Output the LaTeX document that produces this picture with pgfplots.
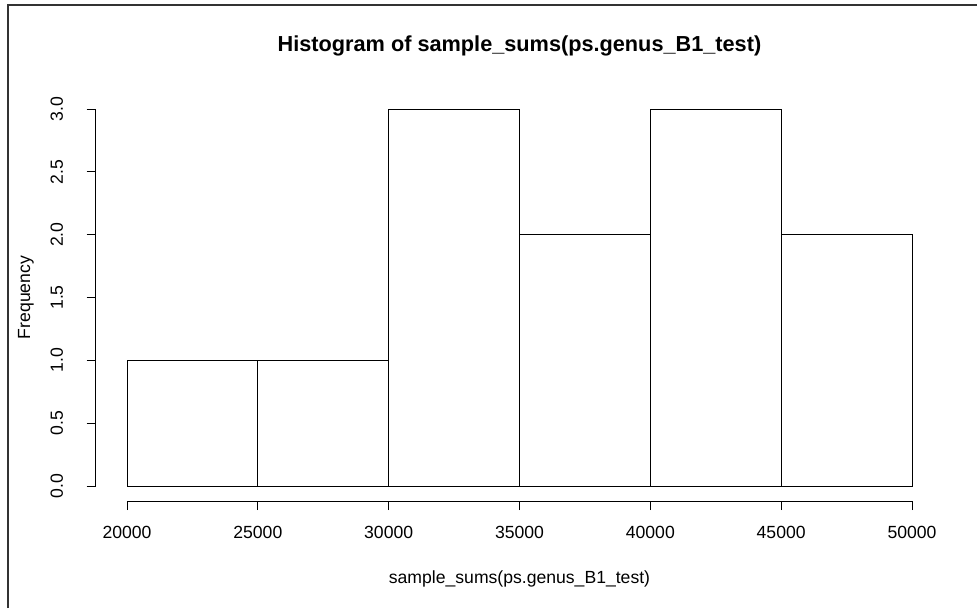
\documentclass[border=0pt]{standalone}
\usepackage{fontspec}
\setmainfont{Liberation Sans}
\usepackage{pgfplots}
\pgfplotsset{compat=1.18}
\begin{document}
\begin{tikzpicture}[x=1pt,y=1pt]
\path[use as bounding box] (0,0) rectangle (977,608);
% outer frame (left and top edges)
\draw[line width=2pt, black!80] (8,0) -- (8,603) -- (977,603);
\begin{axis}[
  at={(95.6pt,106.9pt)}, anchor=south west,
  scale only axis, width=847.8pt, height=407.2pt,
  xmin=18800, xmax=51200, ymin=-0.12, ymax=3.12,
  clip=false,
  axis x line*=bottom, axis y line*=left,
  axis line style={draw=none},
  tick align=outside, major tick length=9pt,
  every tick/.style={black, line width=0.8pt},
  xtick={20000,25000,30000,35000,40000,45000,50000},
  ytick={0,0.5,1,1.5,2,2.5,3},
  scaled x ticks=false,
  /pgf/number format/assume math mode=true,
  x tick label style={/pgf/number format/1000 sep={}, font=\fontsize{17.6}{20}\selectfont, anchor=north, inner sep=0pt, yshift=-16pt},
  y tick label style={/pgf/number format/.cd, fixed, fixed zerofill, precision=1, /tikz/.cd,
    font=\fontsize{17.6}{20}\selectfont, rotate=90, anchor=base, inner sep=0pt, yshift=23.6pt},
  title={Histogram of sample\_sums(ps.genus\_B1\_test)},
  title style={font=\bfseries\fontsize{21.7}{24}\selectfont, at={(0.5,1)}, anchor=base, yshift=35.9pt, inner sep=0pt},
  xlabel={sample\_sums(ps.genus\_B1\_test)},
  xlabel style={font=\fontsize{17.6}{20}\selectfont, at={(0.5,0)}, anchor=base, yshift=-82.2pt, inner sep=0pt},
  ylabel={Frequency},
  ylabel style={font=\fontsize{17.6}{20}\selectfont, at={(0,0.5)}, anchor=base, yshift=65.6pt, inner sep=0pt},
]
\addplot[ybar interval, draw=black, fill=none, line width=0.9pt]
  coordinates {(20000,1) (25000,1) (30000,3) (35000,2) (40000,3) (45000,2) (50000,0)};
% axis lines spanning only the tick range
\draw[line width=0.8pt] (axis cs:20000,-0.12) -- (axis cs:50000,-0.12);
\draw[line width=0.8pt] (axis cs:18800,0) -- (axis cs:18800,3);
\end{axis}
\end{tikzpicture}
\end{document}
